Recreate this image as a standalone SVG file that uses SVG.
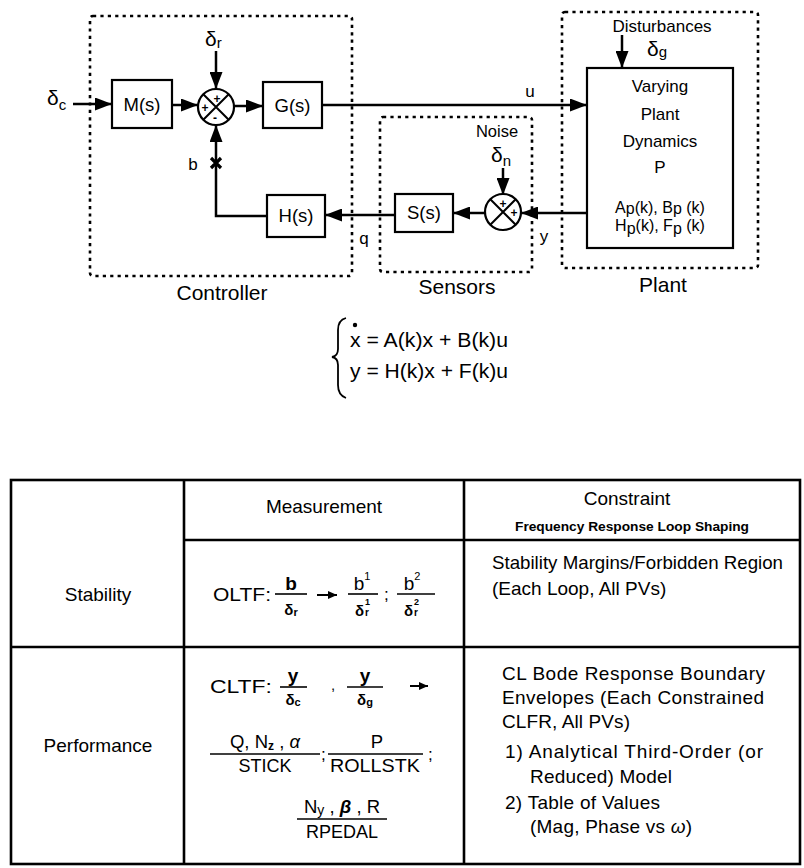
<svg xmlns="http://www.w3.org/2000/svg" width="804" height="868" viewBox="0 0 804 868">
<defs>
<style>
text{font-family:"Liberation Sans",Arial,Helvetica,sans-serif;fill:#000}
.ln{stroke:#000;stroke-width:2.5;fill:none}
.box{fill:#fff;stroke:#000;stroke-width:2.2}
.dash{fill:none;stroke:#000;stroke-width:2.6;stroke-dasharray:3.2 4.2}
.tb{stroke:#000;stroke-width:2.6;fill:none}
.fr{stroke:#000;stroke-width:1.6}
.lab{font-size:21px;text-anchor:middle}
.blk{font-size:18.5px;text-anchor:middle}
.pl{font-size:17px;text-anchor:middle}
.sg{font-size:12px;font-weight:bold;text-anchor:middle}
.t19{font-size:19px}
.mid{text-anchor:middle}
.b{font-weight:bold}
</style>
<marker id="ah" markerUnits="userSpaceOnUse" markerWidth="17" markerHeight="13" refX="17" refY="6.5" orient="auto">
<path d="M0,0 L17,6.5 L0,13 z" fill="#000"/>
</marker>
<marker id="sa" markerUnits="userSpaceOnUse" markerWidth="9" markerHeight="8" refX="9" refY="4" orient="auto">
<path d="M0,0 L9,4 L0,8 z" fill="#000"/>
</marker>
</defs>

<!-- dotted group boxes -->
<g id="controller">
<rect class="dash" x="90" y="16" width="262" height="260" rx="3"/>
<text class="lab" x="222" y="300">Controller</text>
</g>
<g id="sensors">
<rect class="dash" x="380" y="117" width="152" height="155" rx="3"/>
<text class="lab" x="457" y="294">Sensors</text>
<text x="497" y="137" font-size="16.5" text-anchor="middle">Noise</text>
</g>
<g id="plant-group">
<rect class="dash" x="562" y="12" width="196" height="256" rx="3"/>
<text class="lab" x="663" y="292">Plant</text>
<text x="662" y="32" font-size="17" text-anchor="middle">Disturbances</text>
</g>

<!-- connectors -->
<g id="connectors">
<line class="ln" x1="73" y1="104" x2="112" y2="104" marker-end="url(#ah)"/>
<line class="ln" x1="172" y1="105" x2="198" y2="105" marker-end="url(#ah)"/>
<line class="ln" x1="216" y1="51" x2="216" y2="89" marker-end="url(#ah)"/>
<line class="ln" x1="234" y1="106" x2="263" y2="106" marker-end="url(#ah)"/>
<line class="ln" x1="322" y1="105" x2="587" y2="105" marker-end="url(#ah)"/>
<polyline class="ln" points="267,216 216,216 216,125" marker-end="url(#ah)"/>
<line class="ln" x1="395" y1="215" x2="325" y2="215" marker-end="url(#ah)"/>
<line class="ln" x1="485" y1="213" x2="453" y2="213" marker-end="url(#ah)"/>
<line class="ln" x1="587" y1="213" x2="521" y2="213" marker-end="url(#ah)"/>
<line class="ln" x1="503" y1="168" x2="503" y2="195" marker-end="url(#ah)"/>
<line class="ln" x1="622" y1="35" x2="622" y2="68" marker-end="url(#ah)"/>
<path d="M211,158 L221,168 M221,158 L211,168" stroke="#000" stroke-width="3.2"/>
<text x="193" y="170" font-size="17" text-anchor="middle">b</text>
<text x="530" y="97" font-size="17" text-anchor="middle">u</text>
<text x="364" y="244" font-size="17" text-anchor="middle">q</text>
<text x="544" y="242" font-size="17" text-anchor="middle">y</text>
<text x="47" y="105" font-size="21">δ<tspan font-size="15" dy="5">c</tspan></text>
<text x="205" y="46" font-size="21">δ<tspan font-size="15" dy="2">r</tspan></text>
<text x="491" y="162" font-size="21">δ<tspan font-size="15" dy="4">n</tspan></text>
<text x="647" y="56" font-size="21">δ<tspan font-size="15" dy="1">g</tspan></text>
</g>

<!-- blocks -->
<g id="M">
<rect class="box" x="112" y="80" width="60" height="48"/>
<text class="blk" x="142" y="111">M(s)</text>
</g>
<g id="sum1">
<circle class="box" cx="216" cy="107" r="18"/>
<path d="M203.3,94.3 L228.7,119.7 M228.7,94.3 L203.3,119.7" stroke="#000" stroke-width="2"/>
<text class="sg" x="217" y="103">+</text>
<text class="sg" x="205" y="112">+</text>
<text class="sg" x="215" y="122">-</text>
</g>
<g id="G">
<rect class="box" x="263" y="82" width="59" height="46"/>
<text class="blk" x="292.5" y="112">G(s)</text>
</g>
<g id="H">
<rect class="box" x="267" y="195" width="58" height="42"/>
<text class="blk" x="296" y="222">H(s)</text>
</g>
<g id="S">
<rect class="box" x="395" y="194" width="58" height="38"/>
<text class="blk" x="424" y="219">S(s)</text>
</g>
<g id="sum2">
<circle class="box" cx="503" cy="212" r="18"/>
<path d="M490.3,199.3 L515.7,224.7 M515.7,199.3 L490.3,224.7" stroke="#000" stroke-width="2"/>
<text class="sg" x="503" y="208">+</text>
<text class="sg" x="514" y="217">+</text>
</g>
<g id="P">
<rect class="box" x="587" y="68" width="146" height="180"/>
<text class="pl" x="660" y="92">Varying</text>
<text class="pl" x="660" y="120">Plant</text>
<text class="pl" x="660" y="147">Dynamics</text>
<text class="pl" x="660" y="173">P</text>
<text x="660" y="213" font-size="16" text-anchor="middle">A<tspan dy="1">p</tspan><tspan dy="-1">(k), B</tspan><tspan dy="1">p</tspan><tspan dy="-1"> (k)</tspan></text>
<text x="660" y="231" font-size="16" text-anchor="middle">H<tspan dy="3">p</tspan><tspan dy="-3">(k), F</tspan><tspan dy="3">p</tspan><tspan dy="-3"> (k)</tspan></text>
</g>

<!-- equations -->
<g id="equations">
<path d="M346,318 Q338,320 338,330 L338,349 Q338,356 332,357 Q338,358 338,365 L338,385 Q338,395 346,398" fill="none" stroke="#000" stroke-width="1.8"/>
<circle cx="355" cy="325" r="2.2" fill="#000"/>
<text x="350" y="347" font-size="20" textLength="158" lengthAdjust="spacingAndGlyphs">x = A(k)x + B(k)u</text>
<text x="350" y="378" font-size="20" textLength="158" lengthAdjust="spacingAndGlyphs">y = H(k)x + F(k)u</text>
</g>

<!-- table -->
<g id="table">
<rect class="tb" x="11" y="480" width="789" height="384"/>
<line class="tb" x1="184" y1="480" x2="184" y2="864"/>
<line class="tb" x1="464" y1="480" x2="464" y2="864"/>
<line class="tb" x1="184" y1="540" x2="800" y2="540"/>
<line class="tb" x1="11" y1="647" x2="800" y2="647"/>

<text class="t19 mid" x="324" y="513">Measurement</text>
<text class="t19 mid" x="627" y="505">Constraint</text>
<text x="632" y="531" font-size="13.5" font-weight="bold" text-anchor="middle" textLength="234" lengthAdjust="spacingAndGlyphs">Frequency Response Loop Shaping</text>

<text class="t19 mid" x="98" y="601">Stability</text>
<text class="t19 mid" x="98" y="752">Performance</text>

<!-- stability measurement -->
<text class="t19" x="213" y="601" textLength="58" lengthAdjust="spacingAndGlyphs">OLTF:</text>
<text class="b mid" x="291" y="590" font-size="19">b</text>
<line class="fr" x1="275" y1="594" x2="307" y2="594"/>
<text class="b mid" x="291" y="615" font-size="15">δ<tspan font-size="11" dy="1">r</tspan></text>
<line x1="317" y1="595" x2="337" y2="595" stroke="#000" stroke-width="2" marker-end="url(#sa)"/>
<text class="mid" x="362" y="590" font-size="19">b<tspan font-size="11" dy="-10">1</tspan></text>
<line class="fr" x1="348" y1="594" x2="378" y2="594"/>
<text x="355" y="616" font-size="15" font-weight="bold">δ</text>
<text x="365" y="616" font-size="10" font-weight="bold">r</text>
<text x="365" y="605" font-size="9" font-weight="bold">1</text>
<text x="384" y="600" font-size="17">;</text>
<text class="mid" x="412" y="590" font-size="19">b<tspan font-size="11" dy="-10">2</tspan></text>
<line class="fr" x1="397" y1="594" x2="435" y2="594"/>
<text x="404" y="616" font-size="15" font-weight="bold">δ</text>
<text x="414" y="616" font-size="10" font-weight="bold">r</text>
<text x="414" y="605" font-size="9" font-weight="bold">2</text>

<!-- stability constraint -->
<text class="t19" x="492" y="569" textLength="291" lengthAdjust="spacingAndGlyphs">Stability Margins/Forbidden Region</text>
<text class="t19" x="492" y="595">(Each Loop, All PVs)</text>

<!-- performance measurement -->
<text class="t19" x="210" y="693" textLength="62" lengthAdjust="spacingAndGlyphs">CLTF:</text>
<text class="b mid" x="293" y="682" font-size="19">y</text>
<line class="fr" x1="280" y1="687" x2="307" y2="687"/>
<text class="b mid" x="293" y="705" font-size="15">δ<tspan font-size="11" dy="1">c</tspan></text>
<text x="331" y="690" font-size="15">,</text>
<text class="b mid" x="365" y="682" font-size="19">y</text>
<line class="fr" x1="347" y1="687" x2="383" y2="687"/>
<text class="b mid" x="365" y="705" font-size="15">δ<tspan font-size="11" dy="1">g</tspan></text>
<line x1="410" y1="686" x2="428" y2="686" stroke="#000" stroke-width="2" marker-end="url(#sa)"/>

<text class="mid" x="265" y="748" font-size="18.5">Q, N<tspan font-size="12" dy="2" font-weight="bold">z</tspan><tspan dy="-2"> , </tspan><tspan font-style="italic">α</tspan></text>
<line class="fr" x1="210" y1="754" x2="320" y2="754"/>
<text class="mid" x="265" y="772" font-size="18">STICK</text>
<text x="321" y="760" font-size="17">;</text>
<text class="mid" x="377" y="748" font-size="18.5">P</text>
<line class="fr" x1="328" y1="754" x2="423" y2="754"/>
<text class="mid" x="375" y="772" font-size="18" textLength="90" lengthAdjust="spacingAndGlyphs">ROLLSTK</text>
<text x="428" y="760" font-size="17">;</text>
<text class="mid" x="342" y="813" font-size="18.5">N<tspan font-size="14" dy="2">y</tspan><tspan dy="-2"> , </tspan><tspan font-style="italic" font-weight="bold">β</tspan> , R</text>
<line class="fr" x1="297" y1="819" x2="387" y2="819"/>
<text class="mid" x="342" y="838" font-size="18">RPEDAL</text>

<!-- performance constraint -->
<text class="t19" x="502" y="680" textLength="263" lengthAdjust="spacing">CL Bode Response Boundary</text>
<text class="t19" x="502" y="704" textLength="262" lengthAdjust="spacing">Envelopes (Each Constrained</text>
<text class="t19" x="502" y="728" textLength="128" lengthAdjust="spacing">CLFR, All PVs)</text>
<text class="t19" x="505" y="758" textLength="258" lengthAdjust="spacing">1) Analytical Third-Order (or</text>
<text class="t19" x="530" y="783" textLength="142" lengthAdjust="spacing">Reduced) Model</text>
<text class="t19" x="505" y="809" textLength="155" lengthAdjust="spacing">2) Table of Values</text>
<text class="t19" x="530" y="833" textLength="162" lengthAdjust="spacing">(Mag, Phase vs <tspan font-style="italic">ω</tspan>)</text>
</g>
</svg>
